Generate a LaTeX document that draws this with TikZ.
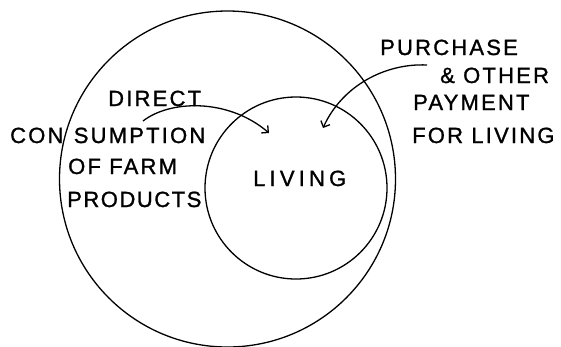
\documentclass[tikz,border=0pt]{standalone}
\usepackage{fontspec}
\setmainfont{Liberation Sans}[LetterSpace=10,FakeBold=1.2]
\usetikzlibrary{arrows.meta}
\tikzset{
  lbl/.style={anchor=base west, inner sep=0pt, font=\fontsize{22}{26}\selectfont},
  ring/.style={line width=1.3pt},
  flow/.style={line width=1.3pt, -{Straight Barb[length=5pt,width=10pt,line width=1.3pt]}}
}
\begin{document}
\begin{tikzpicture}[x=1pt,y=-1pt]
\useasboundingbox (0,0) rectangle (561,346);
% circles
\draw[ring] (227.5,179) circle[radius=168];
\draw[ring] (296,188) circle[radius=91];
% labels
\node[lbl] (direct) at (108,106) {DIRECT};
\node[lbl] (cons) at (10,143) {CON\hspace{2pt} SUMPTION};
\node[lbl] (farm) at (68,174) {OF FARM};
\node[lbl] (prod) at (67,207) {\addfontfeature{LetterSpace=7}PRODUCTS};
\node[lbl] (living) at (253,186) {\addfontfeature{LetterSpace=19}LIVING};
\node[lbl] (purch) at (380,55) {PURCHASE};
\node[lbl] (other) at (440,83) {\& OTHER};
\node[lbl] (pay) at (413,110) {PAYMENT};
\node[lbl] (forl) at (412,143) {FOR LIVING};
% arrows
\coordinate (d0) at (143,121);
\coordinate (d1) at (269,133);
\coordinate (p0) at (427,65);
\coordinate (p1) at (323,128);
\draw[flow] (d0) .. controls (170,100) and (228,98) .. (d1);
\draw[flow] (p0) .. controls (385,63) and (342,86) .. (p1);
\end{tikzpicture}
\end{document}
